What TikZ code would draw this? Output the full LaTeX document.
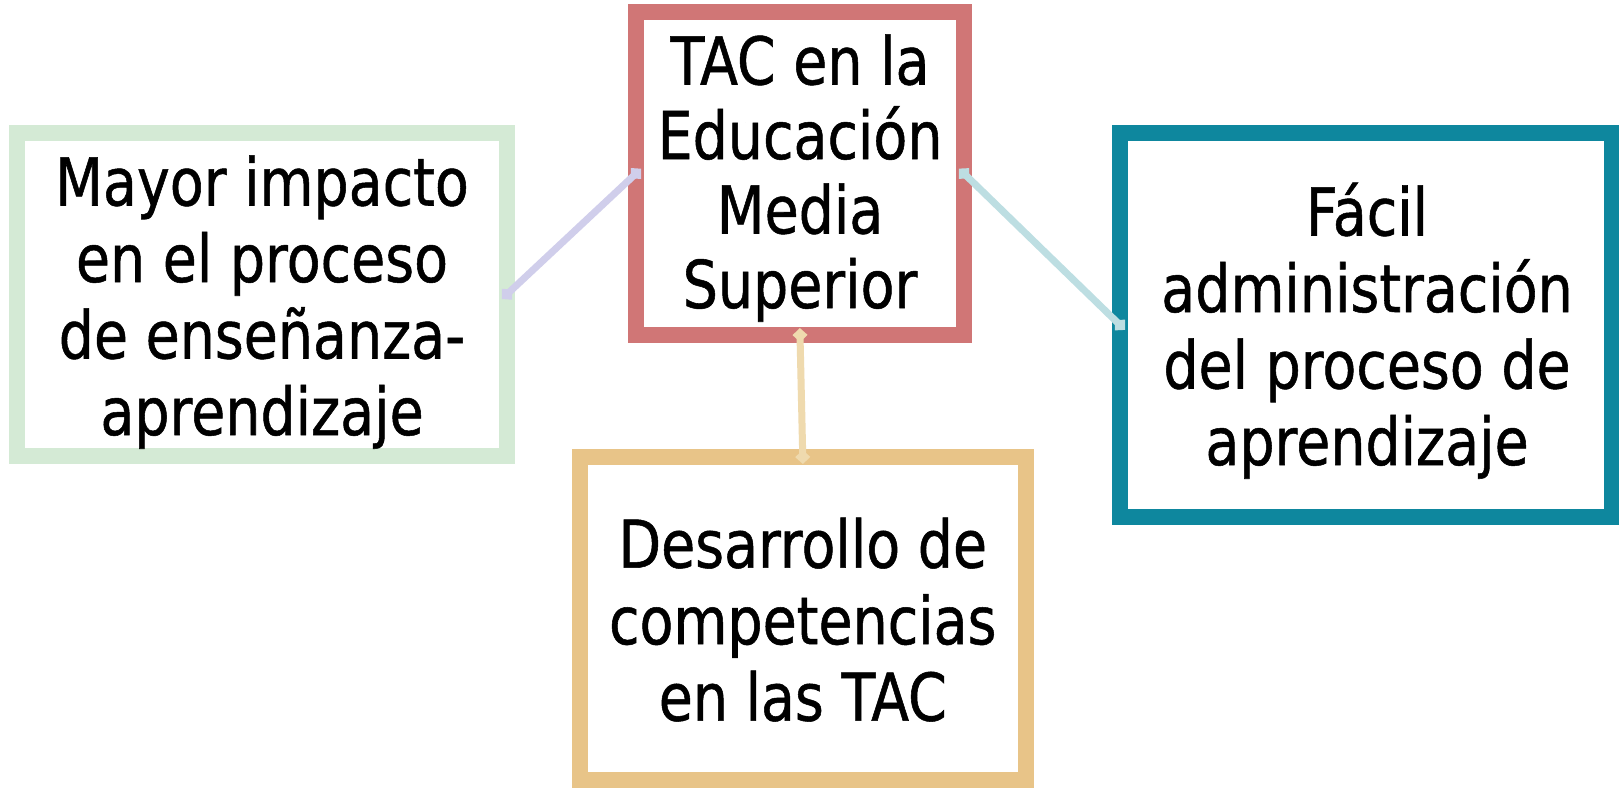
\documentclass[tikz,border=0pt]{standalone}
\usepackage{fontspec}
\setmainfont{DejaVu Sans}[FakeStretch=0.84,FakeBold=0.8]
\usetikzlibrary{arrows.meta}
\definecolor{cred}{HTML}{D07676}
\definecolor{cgreen}{HTML}{D4EAD5}
\definecolor{cteal}{HTML}{0E879E}
\definecolor{ctan}{HTML}{E8C488}
\definecolor{clav}{HTML}{D0CEEB}
\definecolor{cblue}{HTML}{BDDEE2}
\definecolor{ctanl}{HTML}{EFDAAE}
\begin{document}
\begin{tikzpicture}[x=1pt,y=-1pt,
  box/.style={draw, line width=16pt, inner sep=0pt, outer sep=0pt},
  txt/.style={align=center, inner sep=0pt, font=\fontsize{66}{76.5}\selectfont},
  link/.style={line width=7pt, {Diamond[length=14pt,width=15pt]}-{Diamond[length=14pt,width=15pt]}, shorten <=-7pt, shorten >=-7pt}]
\fill[white] (0,0) rectangle (1619,787);
\useasboundingbox (0,0) rectangle (1619,787);
\node[box, draw=cred, minimum width=328pt, minimum height=323pt] (c) at (800,173.5) {};
\node[box, draw=cgreen, minimum width=490.5pt, minimum height=322.5pt] (l) at (261.75,294.25) {};
\node[box, draw=cteal, minimum width=492pt, minimum height=384pt] (r) at (1366,325) {};
\node[box, draw=ctan, minimum width=445.5pt, minimum height=323pt] (b) at (802.75,618.5) {};
\node[txt, anchor=base, font=\fontsize{66}{74.5}\selectfont] (ct) at (800,308) {TAC en la\\Educación\\Media\\Superior};
\node[txt, anchor=base] (lt) at (262,435) {Mayor impacto\\en el proceso\\de enseñanza-\\aprendizaje};
\node[txt, anchor=base] (rt) at (1367,465) {Fácil\\administración\\del proceso de\\aprendizaje};
\node[txt, anchor=base] (bt) at (802.75,720.7) {Desarrollo de\\competencias\\en las TAC};
\draw[link, clav] (c.west) -- (l.east);
\draw[link, cblue] (c.east) -- (r.west);
\draw[link, ctanl] (c.south) -- (b.north);
\end{tikzpicture}
\end{document}
